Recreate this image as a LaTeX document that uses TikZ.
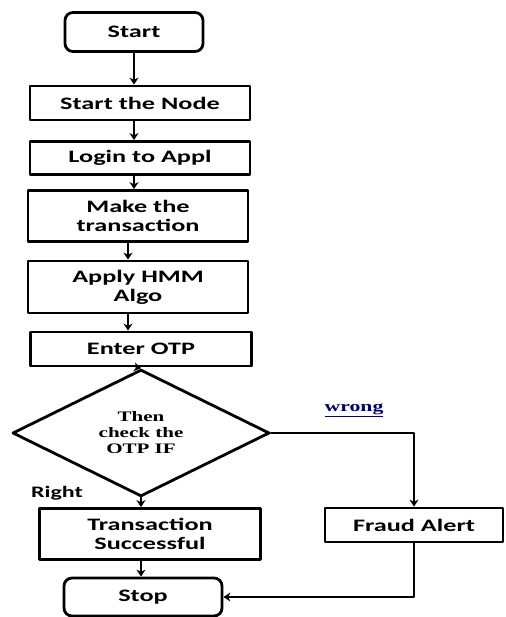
\documentclass[tikz,border=0pt]{standalone}
\usepackage{fontspec}
\setmainfont{Carlito}[FakeStretch=1.5]
\newfontfamily\diafont{Liberation Serif}[FakeStretch=1.45]
\usetikzlibrary{shapes.geometric,arrows.meta}
\begin{document}
\begin{tikzpicture}[line cap=round, line join=round, >={Stealth[length=7pt,width=9pt]}, x=1pt, y=-1pt]
	\tikzset{box/.style={draw, line width=2.8pt, inner sep=0pt, align=center, font=\fontsize{17.5}{19}\selectfont\bfseries},
		term/.style={box, rounded corners=8pt},
		decision/.style={draw, line width=2.8pt, shape=diamond, inner sep=0pt, align=center, minimum width=257pt, minimum height=115pt, font=\diafont\fontsize{14.5}{16}\selectfont\bfseries},
		conn/.style={->, line width=2.6pt},
		tag/.style={font=\fontsize{16}{18}\selectfont\bfseries}}
	\useasboundingbox (0,0) rectangle (505,617);
	\node[term, minimum width=138pt, minimum height=39pt] (start) at (134,32) {Start};
	\node[box, minimum width=220pt, minimum height=34pt] (startnode) at (140,103) {Start the Node};
	\node[box, minimum width=220pt, minimum height=33pt] (login) at (140,158) {Login to Appl};
	\node[box, minimum width=220pt, minimum height=51pt] (maketr) at (138,216) {Make the\\transaction};
	\node[box, minimum width=220pt, minimum height=52pt] (hmm) at (138,287) {Apply HMM\\Algo};
	\node[box, minimum width=221pt, minimum height=34pt] (otp) at (141,349) {Enter OTP};
	\node[decision] (check) at (141,433) {Then\\check the\\OTP IF};
	\node[box, minimum width=221pt, minimum height=51pt] (success) at (150,534) {Transaction\\Successful};
	\node[box, minimum width=178pt, minimum height=34pt] (fraud) at (414,525) {Fraud Alert};
	\node[term, minimum width=158pt, minimum height=38pt] (stop) at (143,597) {Stop};
	\node[tag] (right) at (57,493) {Right};
	\node[font=\diafont\fontsize{15}{17}\selectfont\bfseries, text=blue!45!black] (wrong) at (354,410) {\underline{wrong}};
	% connectors
	\draw[conn] (start.south) -- (start.south |- startnode.north);
	\draw[conn] (startnode.south -| start) -- (login.north -| start);
	\draw[conn] (login.south -| start) -- (maketr.north -| start);
	\draw[conn] ([xshift=-10pt]maketr.south) -- ([xshift=-10pt]hmm.north);
	\draw[conn] ([xshift=-10pt]hmm.south) -- ([xshift=-13pt]otp.north);
	\draw[conn] ([xshift=-4pt]otp.south) -- (check.north);
	\draw[conn] (check.south) -- (check.south |- success.north);
	\draw[conn] (check.south |- success.south) -- (check.south |- stop.north);
	\draw[conn] (check.east) -| (fraud.north);
	\draw[conn] (fraud.south) |- (stop.east);
\end{tikzpicture}
\end{document}
